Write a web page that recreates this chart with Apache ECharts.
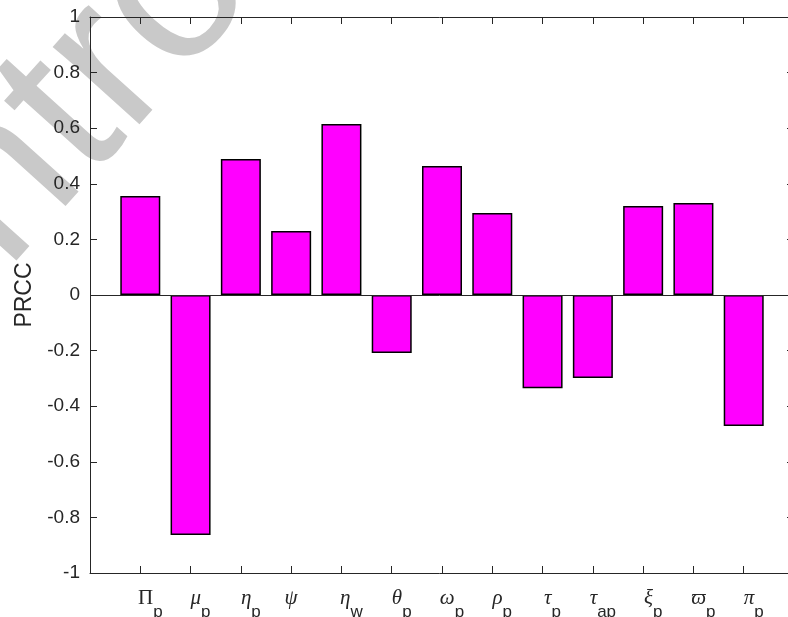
<!DOCTYPE html>
<html>
<head>
<meta charset="utf-8">
<script src="https://cdn.jsdelivr.net/npm/echarts@6/dist/echarts.min.js"></script>
<style>
  html, body { margin: 0; padding: 0; background: #fff; }
  #chart { width: 788px; height: 617px; }
</style>
</head>
<body>
<div id="chart"></div>
<script>
// Parameter symbols (Greek letter + subscript) and their PRCC values
const symbols    = ['Π', 'μ', 'η', 'ψ', 'η', 'θ', 'ω', 'ρ', 'τ', 'τ', 'ξ', 'ϖ', 'π'];
const subscripts = ['p', 'p', 'p', '',  'w', 'p', 'p', 'p', 'p', 'ap', 'p', 'p', 'p'];
const prcc       = [0.356, -0.863, 0.489, 0.230, 0.615, -0.209, 0.464, 0.295, -0.335, -0.299, 0.320, 0.331, -0.471];

// Axis ranges
const yMin = -1, yMax = 1, yStep = 0.2;
const xMin = 0, xMax = 14;

const axisColor = '#262626';
const chart = echarts.init(document.getElementById('chart'), null, { renderer: 'canvas' });

const barData = prcc.map((v, i) => [i + 1, v]);

// Subscripted labels sit a little right of their tick (TeX-style layout)
function tickLabel(v) {
  const i = Math.round(v) - 1;
  if (i < 0 || i >= symbols.length) return '';
  const style = symbols[i] === 'Π' ? 'gu' : 'g';
  const sub = subscripts[i] ? '{s|' + subscripts[i] + '}' : '';
  const lead = subscripts[i] ? '{sp| }' : '';
  return lead + '{' + style + '|' + symbols[i] + '}' + sub;
}

const labelRich = {
  sp: { width: 20, fontSize: 10, lineHeight: 24, verticalAlign: 'top' },
  g:  { fontFamily: 'Liberation Serif', fontStyle: 'italic', fontSize: 21, color: axisColor, verticalAlign: 'top', lineHeight: 24 },
  gu: { fontFamily: 'Liberation Serif', fontStyle: 'normal', fontSize: 21, color: axisColor, verticalAlign: 'top', lineHeight: 24 },
  s:  { fontFamily: 'Liberation Sans', fontSize: 17, color: axisColor, verticalAlign: 'bottom', lineHeight: 32.5 }
};

// Diagonal grey watermark word, laid out letter by letter along a slanted baseline
const wmFont = 220, wmAngle = 48 * Math.PI / 180;
const wmWord = 'Control';
const wmAnchor = [174, -5];   // centre of the second "o"
const wmGraphics = (function () {
  const ctx = document.createElement('canvas').getContext('2d');
  ctx.font = wmFont + 'px "Liberation Sans"';
  const adv = wmWord.split('').map(ch => ctx.measureText(ch).width);
  const centres = [];
  let s = 0;
  adv.forEach((w) => { centres.push(s + w / 2); s += w; });
  const ref = centres[5];
  const dx = Math.cos(wmAngle), dy = -Math.sin(wmAngle);
  return wmWord.split('').map((ch, i) => ({
    type: 'text', z: -10, silent: true,
    x: wmAnchor[0] + (centres[i] - ref) * dx,
    y: wmAnchor[1] + (centres[i] - ref) * dy,
    rotation: wmAngle,
    style: {
      text: ch, fontFamily: 'Liberation Sans', fontSize: wmFont,
      fill: '#c9c9c9', align: 'center', verticalAlign: 'middle'
    }
  }));
})();

chart.setOption({
  animation: false,
  backgroundColor: '#fff',
  graphic: wmGraphics,
  grid: { left: 90, width: 704, top: 17, height: 556, containLabel: false, outerBoundsMode: 'none' },
  xAxis: [{
    type: 'value', min: xMin, max: xMax, interval: 1, position: 'bottom',
    axisLine: { onZero: false, lineStyle: { color: axisColor, width: 1 } },
    axisTick: { inside: true, length: 7, lineStyle: { color: axisColor } },
    splitLine: { show: false },
    axisLabel: { margin: 15, formatter: tickLabel, rich: labelRich, showMinLabel: false, showMaxLabel: false }
  }, {
    type: 'value', min: xMin, max: xMax, interval: 1, position: 'top',
    axisLine: { onZero: false, lineStyle: { color: axisColor, width: 1 } },
    axisTick: { inside: true, length: 7, lineStyle: { color: axisColor } },
    splitLine: { show: false },
    axisLabel: { show: false }
  }],
  yAxis: [{
    type: 'value', min: yMin, max: yMax, interval: yStep, position: 'left',
    name: 'PRCC', nameLocation: 'middle', nameGap: 53, nameRotate: 90,
    nameTextStyle: { fontFamily: 'Liberation Sans', fontSize: 23, color: axisColor },
    axisLine: { show: true, onZero: false, lineStyle: { color: axisColor, width: 1 } },
    axisTick: { show: true, inside: true, length: 7, lineStyle: { color: axisColor } },
    splitLine: { show: false },
    axisLabel: { margin: 10, fontFamily: 'Liberation Sans', fontSize: 19, color: axisColor }
  }, {
    type: 'value', min: yMin, max: yMax, interval: yStep, position: 'right',
    axisLine: { show: true, onZero: false, lineStyle: { color: axisColor, width: 1 } },
    axisTick: { show: true, inside: true, length: 7, lineStyle: { color: axisColor } },
    splitLine: { show: false },
    axisLabel: { show: false }
  }],
  series: [{
    type: 'bar',
    xAxisIndex: 0,
    yAxisIndex: 0,
    data: barData,
    barWidth: 40,
    itemStyle: { color: '#ff00ff', borderColor: '#000', borderWidth: 1.5 },
    markLine: {
      silent: true,
      symbol: 'none',
      label: { show: false },
      lineStyle: { color: axisColor, width: 1, type: 'solid' },
      data: [{ yAxis: 0 }]
    }
  }]
});
</script>
</body>
</html>
